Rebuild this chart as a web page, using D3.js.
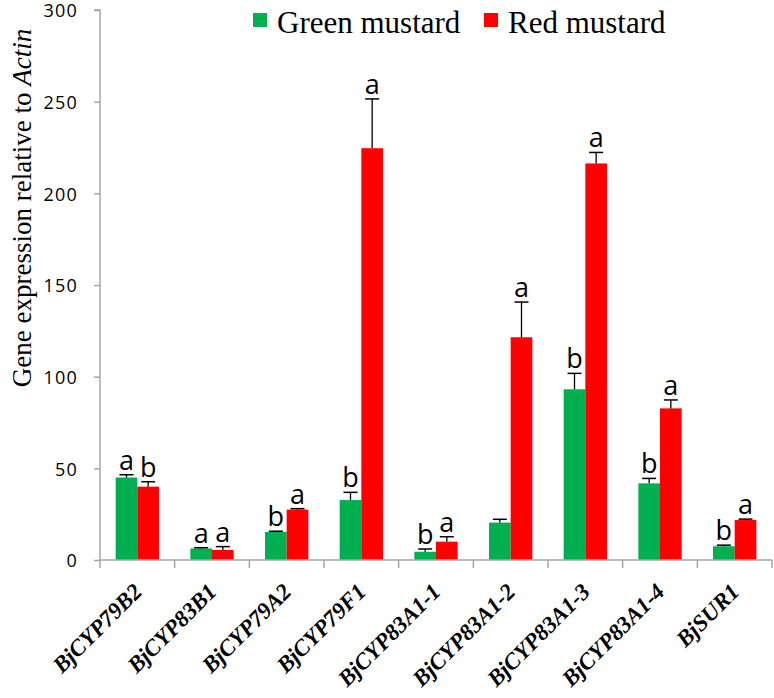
<!DOCTYPE html>
<html>
<head>
<meta charset="utf-8">
<script src="https://cdn.jsdelivr.net/npm/d3@7"></script>
<style>
  html, body { margin: 0; padding: 0; background: #fff; }
  svg { display: block; }
</style>
</head>
<body>
<svg id="chart" width="774" height="698"></svg>
<script>
// ---- data ----
const categories = ["BjCYP79B2", "BjCYP83B1", "BjCYP79A2", "BjCYP79F1", "BjCYP83A1-1", "BjCYP83A1-2", "BjCYP83A1-3", "BjCYP83A1-4", "BjSUR1"];
const seriesNames = ["Green mustard", "Red mustard"];
const greenValues = [45, 6.3, 15.3, 32.7, 4.5, 20.4, 93.1, 41.8, 7.5];
const greenErrors = [1.5, 0.4, 0.4, 4.2, 1.5, 1.8, 8.7, 2.7, 0.6];
const redValues = [40, 5.5, 27.5, 224.6, 10, 121.5, 216.3, 82.7, 21.8];
const redErrors = [2.7, 1.8, 0.5, 26.9, 2.7, 19.2, 6.0, 4.6, 0.5];
const greenLetters = ["a", "a", "b", "b", "b", "", "b", "b", "b"];
const redLetters = ["b", "a", "a", "a", "a", "a", "a", "a", "a"];
const yTicks = [0, 50, 100, 150, 200, 250, 300];

// ---- layout ----
const colors = ["#00b050", "#ff0000"];
const axisColor = "#a6a6a6";
const plotLeft = 100, plotRight = 772, plotTop = 10, plotBottom = 560;

const svg = d3.select("#chart");

const y = d3.scaleLinear().domain([0, 300]).range([plotBottom, plotTop]);
const x0 = d3.scaleBand().domain(categories).range([plotLeft, plotRight])
  .paddingInner(0.42).paddingOuter(0.21);
const x1 = d3.scaleBand().domain(seriesNames).range([0, x0.bandwidth()]);

const rows = categories.map((c, i) => ({
  cat: c,
  items: [
    { s: seriesNames[0], v: greenValues[i], e: greenErrors[i], l: greenLetters[i], c: colors[0] },
    { s: seriesNames[1], v: redValues[i], e: redErrors[i], l: redLetters[i], c: colors[1] }
  ]
}));

// bars
const g = svg.append("g");
const groups = g.selectAll("g.grp").data(rows).join("g")
  .attr("class", "grp")
  .attr("transform", d => `translate(${x0(d.cat)},0)`);

groups.selectAll("rect").data(d => d.items).join("rect")
  .attr("x", d => x1(d.s))
  .attr("width", x1.bandwidth())
  .attr("y", d => y(d.v))
  .attr("height", d => y(0) - y(d.v))
  .attr("fill", d => d.c);

// error bars
const eb = groups.selectAll("g.err").data(d => d.items).join("g").attr("class", "err");
eb.append("line")
  .attr("x1", d => x1(d.s) + x1.bandwidth() / 2)
  .attr("x2", d => x1(d.s) + x1.bandwidth() / 2)
  .attr("y1", d => y(d.v))
  .attr("y2", d => y(d.v + d.e))
  .attr("stroke", "#000").attr("stroke-width", 1.3);
eb.append("line")
  .attr("x1", d => x1(d.s) + x1.bandwidth() / 2 - 7)
  .attr("x2", d => x1(d.s) + x1.bandwidth() / 2 + 7)
  .attr("y1", d => y(d.v + d.e))
  .attr("y2", d => y(d.v + d.e))
  .attr("stroke", "#000").attr("stroke-width", 1.5);

// letters
groups.selectAll("text.sig").data(d => d.items).join("text")
  .attr("class", "sig")
  .attr("x", d => x1(d.s) + x1.bandwidth() / 2)
  .attr("y", d => y(d.v + d.e) - 5)
  .attr("text-anchor", "middle")
  .attr("font-family", "'Open Sans', sans-serif")
  .attr("font-size", 27)
  .attr("fill", "#000")
  .text(d => d.l);

// y axis
const yAxis = svg.append("g")
  .attr("transform", `translate(${plotLeft},0)`)
  .call(d3.axisLeft(y).tickValues(yTicks).tickSize(6).tickPadding(16));
yAxis.select(".domain").attr("stroke", axisColor).attr("stroke-width", 1.5)
  .attr("d", `M-6,${plotTop}H0V${plotBottom}`);
yAxis.selectAll(".tick line").attr("stroke", axisColor).attr("stroke-width", 1.5);
yAxis.selectAll(".tick text")
  .attr("font-family", "'Open Sans', sans-serif")
  .attr("font-size", 18)
  .attr("letter-spacing", 1.2)
  .attr("dy", "0.38em")
  .attr("fill", "#000");

// x axis
const step = x0.step();
const boundaries = d3.range(categories.length + 1).map(i => plotLeft + i * step);
const xAxis = svg.append("g");
xAxis.append("line")
  .attr("x1", plotLeft).attr("x2", plotRight)
  .attr("y1", plotBottom).attr("y2", plotBottom)
  .attr("stroke", axisColor).attr("stroke-width", 1.5);
xAxis.selectAll("line.tk").data(boundaries).join("line")
  .attr("class", "tk")
  .attr("x1", d => d).attr("x2", d => d)
  .attr("y1", plotBottom).attr("y2", plotBottom + 8)
  .attr("stroke", axisColor).attr("stroke-width", 1.5);

xAxis.selectAll("text.cat").data(categories).join("text")
  .attr("class", "cat")
  .attr("transform", d => `translate(${x0(d) + x0.bandwidth() / 2 + 6},${plotBottom + 33}) rotate(-45)`)
  .attr("text-anchor", "end")
  .attr("font-family", "'Liberation Serif', 'Times New Roman', serif")
  .attr("font-style", "italic")
  .attr("font-weight", "bold")
  .attr("font-size", 23)
  .attr("fill", "#000")
  .text(d => d);

// y title
const yt = svg.append("text")
  .attr("transform", `translate(31,208) rotate(-90)`)
  .attr("text-anchor", "middle")
  .attr("font-family", "'Liberation Serif', 'Times New Roman', serif")
  .attr("font-size", 27)
  .attr("fill", "#000");
yt.append("tspan").text("Gene expression relative to ");
yt.append("tspan").attr("font-style", "italic").text("Actin");

// legend
const legendX = [253, 484];
const lg = svg.selectAll("g.leg").data(seriesNames).join("g")
  .attr("class", "leg")
  .attr("transform", (d, i) => `translate(${legendX[i]},13)`);
lg.append("rect").attr("width", 14).attr("height", 14).attr("fill", (d, i) => colors[i]);
lg.append("text")
  .attr("x", 24).attr("y", 20)
  .attr("font-family", "'Liberation Serif', 'Times New Roman', serif")
  .attr("font-size", 31)
  .attr("fill", "#000")
  .text(d => d);
</script>
</body>
</html>
